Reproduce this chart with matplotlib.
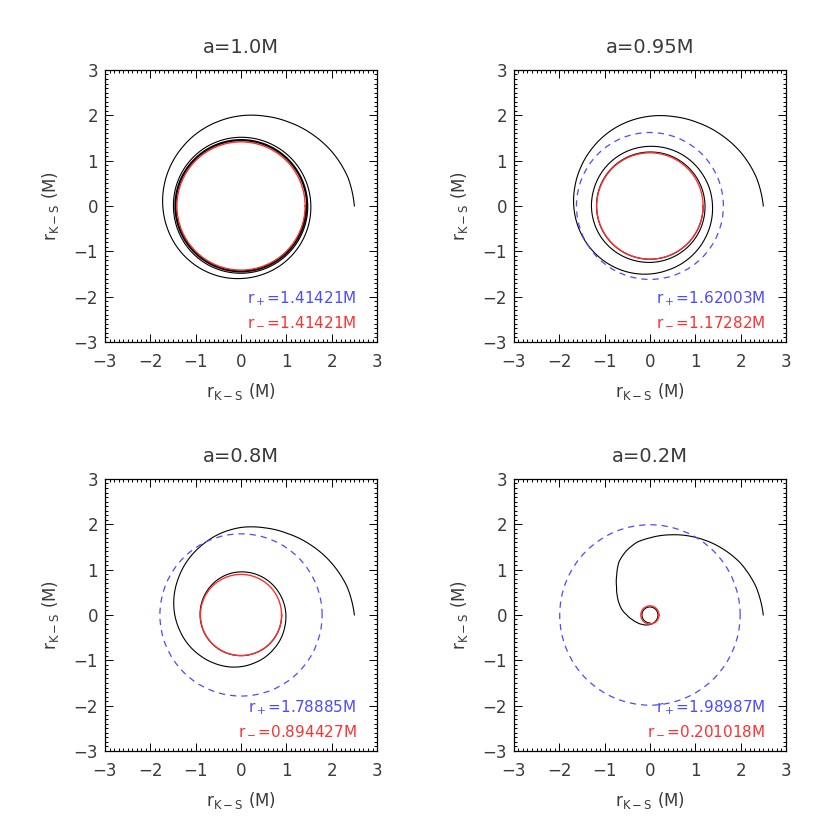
import numpy as np
import matplotlib
matplotlib.use('Agg')
import matplotlib.pyplot as plt
from matplotlib.ticker import MultipleLocator

# spin values, horizon radii (Kerr-Schild radius)
titles = ['a=1.0M', 'a=0.95M', 'a=0.8M', 'a=0.2M']
r_plus = [1.41421, 1.62003, 1.78885, 1.98987]
r_minus = [1.41421, 1.17282, 0.894427, 0.201018]
plus_labels = ['1.41421M', '1.62003M', '1.78885M', '1.98987M']
minus_labels = ['1.41421M', '1.17282M', '0.894427M', '0.201018M']

r_a10 = [2.50, 2.44, 2.34, 2.23, 2.13, 2.05, 1.99, 1.93, 1.88, 1.83, 1.79, 1.755,
         1.725, 1.70, 1.68, 1.66, 1.64, 1.62, 1.60, 1.585, 1.575, 1.565, 1.555, 1.547,
         1.54, 1.535, 1.53, 1.525, 1.52, 1.517, 1.515, 1.512, 1.51, 1.505, 1.50, 1.495,
         1.49, 1.49, 1.49, 1.49, 1.488, 1.486, 1.484, 1.482, 1.48, 1.478, 1.476, 1.474,
         1.472, 1.47, 1.468, 1.467, 1.466, 1.465, 1.464, 1.463, 1.462, 1.461, 1.46, 1.459,
         1.458, 1.457, 1.456, 1.455, 1.454, 1.453, 1.452, 1.451, 1.45, 1.449, 1.448, 1.447,
         1.446, 1.445, 1.444, 1.443, 1.442, 1.441, 1.44, 1.439, 1.438, 1.437, 1.436, 1.435,
         1.434, 1.433, 1.432, 1.431, 1.43, 1.43, 1.429, 1.429, 1.428, 1.428, 1.427, 1.427,
         1.426]
r_a095 = [2.50, 2.43, 2.33, 2.22, 2.12, 2.04, 1.98, 1.92, 1.86, 1.80, 1.75, 1.71,
          1.68, 1.65, 1.62, 1.59, 1.56, 1.53, 1.50, 1.47, 1.45, 1.43, 1.41, 1.395,
          1.38, 1.37, 1.355, 1.345, 1.335, 1.325, 1.315, 1.31, 1.305, 1.30, 1.295, 1.29,
          1.29, 1.285, 1.28, 1.27, 1.26, 1.25, 1.245, 1.24, 1.235, 1.23, 1.225, 1.22,
          1.215, 1.21, 1.205, 1.20, 1.197, 1.194, 1.19, 1.188, 1.186, 1.184, 1.182, 1.18,
          1.179, 1.178, 1.177, 1.176, 1.176, 1.175, 1.175, 1.175, 1.174, 1.174, 1.174, 1.174,
          1.174]
r_a08 = [2.50, 2.42, 2.30, 2.18, 2.07, 1.99, 1.93, 1.85, 1.76, 1.68, 1.60, 1.53,
         1.46, 1.39, 1.33, 1.27, 1.22, 1.18, 1.14, 1.10, 1.07, 1.04, 1.02, 1.00,
         0.99, 0.98, 0.97, 0.965, 0.96, 0.955, 0.95, 0.945, 0.935, 0.925, 0.915, 0.908,
         0.903, 0.901, 0.90, 0.899, 0.899, 0.898, 0.898, 0.897, 0.897, 0.897, 0.897, 0.897,
         0.897]
# a=0.2 plunges fast, so its angles are listed too
th_a02 = [0, 15, 30, 45, 60, 75, 90, 100, 110, 120, 130, 140, 150, 160, 170, 180,
          195, 210, 230, 250, 270, 290, 310, 330, 350, 370, 390, 410, 430, 450, 470,
          490, 510, 530, 550, 570, 590, 610, 630]
r_a02 = [2.50, 2.42, 2.30, 2.14, 1.98, 1.83, 1.70, 1.63, 1.51, 1.36, 1.14, 0.96,
         0.83, 0.72, 0.62, 0.51, 0.40, 0.33, 0.27, 0.235, 0.21, 0.195, 0.185, 0.18,
         0.178, 0.177, 0.176, 0.176, 0.176, 0.176, 0.176, 0.176, 0.176, 0.176, 0.176,
         0.176, 0.176, 0.176, 0.176]

orbits = [
    (np.arange(len(r_a10)) * 15.0, r_a10),
    (np.arange(len(r_a095)) * 15.0, r_a095),
    (np.arange(len(r_a08)) * 15.0, r_a08),
    (np.array(th_a02, dtype=float), r_a02),
]
ring = np.radians([0, 90, 180, 270, 360])

blue = '#4b4bff'
red = '#ff3030'
txt = '#3a3a3a'
plt.rcParams['font.family'] = ['DejaVu Sans']

fig = plt.figure(figsize=(8.17, 8.17), dpi=100)
pos = [[0.1285, 0.5814, 0.333, 0.333], [0.629, 0.5814, 0.333, 0.333],
       [0.1285, 0.0808, 0.333, 0.333], [0.629, 0.0808, 0.333, 0.333]]


def smooth(line):
    # let the polar transform draw each segment as a curve
    line.get_path()._interpolation_steps = 40
    return line


for i in range(4):
    ax = fig.add_axes(pos[i])
    ax.set_xlim(-3, 3)
    ax.set_ylim(-3, 3)
    ax.xaxis.set_major_locator(MultipleLocator(1))
    ax.yaxis.set_major_locator(MultipleLocator(1))
    ax.xaxis.set_minor_locator(MultipleLocator(0.1))
    ax.yaxis.set_minor_locator(MultipleLocator(0.1))
    ax.tick_params(which='both', direction='in', top=True, right=True,
                   labelsize=12, labelcolor=txt, width=0.7)
    ax.tick_params(which='major', length=5.5)
    ax.tick_params(which='minor', length=2.5)
    ax.tick_params(axis='x', pad=8)
    ax.tick_params(axis='y', pad=5)
    for s in ax.spines.values():
        s.set_linewidth(0.9)
    ax.set_title(titles[i], fontsize=14, color=txt, pad=12)
    ax.set_xlabel(r'r$_{\rm K-S}$ (M)', fontsize=12, color=txt, labelpad=7)
    ax.set_ylabel(r'r$_{\rm K-S}$ (M)', fontsize=12, color=txt, labelpad=9)
    ax.text(2.55, -2.05, r'r$_+$=' + plus_labels[i], color=blue, fontsize=11,
            ha='right', va='center')
    ax.text(2.55, -2.55, r'r$_-$=' + minus_labels[i], color=red, fontsize=11,
            ha='right', va='center')

    # same square, polar coordinates, r=3 at the box edge
    pax = fig.add_axes(pos[i], projection='polar', frameon=False)
    pax.set_ylim(0, 3)
    pax.set_axis_off()
    th, r = orbits[i]
    smooth(pax.plot(np.radians(th), r, color='black', lw=0.8)[0])
    if i > 0:
        smooth(pax.plot(ring, [r_plus[i]] * 5, color=blue, lw=0.9,
                        ls=(0, (5, 4)))[0])
    smooth(pax.plot(ring, [r_minus[i]] * 5, color=red, lw=1.0)[0])

fig.savefig('out.png', dpi=100)
